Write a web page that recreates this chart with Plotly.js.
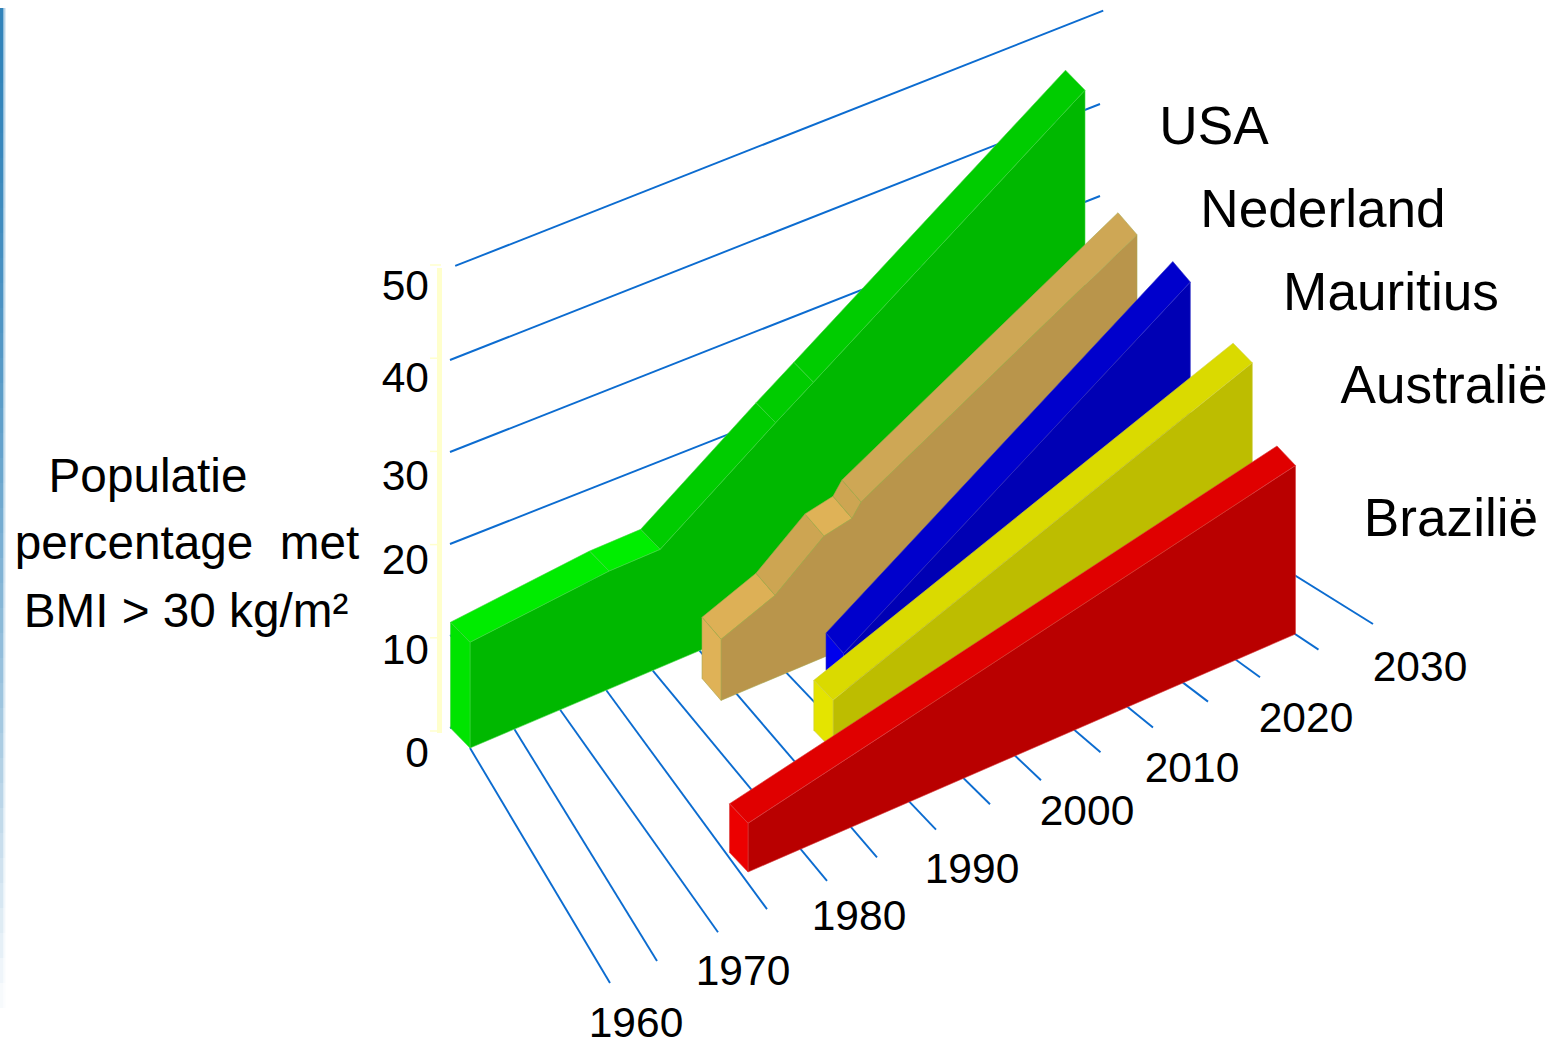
<!DOCTYPE html>
<html>
<head>
<meta charset="utf-8">
<title>Obesitas per land</title>
<script src="https://cdn.plot.ly/plotly-3.0.1.min.js"></script>
<style>html,body{margin:0;padding:0;background:#fff}#chart{width:1562px;height:1041px}</style>
</head>
<body>
<div id="chart"></div>
<script>
// Share of the population with BMI > 30 kg/m2, by survey year, per country
const usaYears = [1960, 1974.7, 1980.1, 1992.3, 1996.3, 2025];
const usaValues = [11.3, 12.6, 12.6, 20.9, 23.5, 42.4];
const nederlandYears = [1983.4, 1988.8, 1993.7, 1996.5, 1997.4, 2025];
const nederlandValues = [6.3, 8.5, 12.5, 13.1, 14.4, 30.0];
const mauritiusYears = [1992, 2025];
const mauritiusValues = [3.7, 26.2];
const australieYears = [1986, 2025];
const australieValues = [4.85, 20.5];
const brazilieYears = [1975, 2025];
const brazilieValues = [4.6, 15.9];

const axisValues = [0, 10, 20, 30, 40, 50];
const axisYearTicks = [1960, 1970, 1980, 1990, 2000, 2010, 2020, 2030];
const gridYears = [1960, 1965, 1970, 1975, 1980, 1985, 1990, 1995, 2000, 2005, 2010, 2015, 2020, 2025, 2030];
const countryNames = ['USA', 'Nederland', 'Mauritius', 'Australië', 'Brazilië'];
const yTitleLines = ['Populatie', 'percentage\u00a0 met', 'BMI > 30 kg/m²'];

// Oblique view: each ribbon has a floor line, a height scale and an extrusion offset
const ribbons = [
  {years: usaYears, values: usaValues, from: [470, 748], to: [1085, 487], scale: 9.36, depth: [-19.5, -20],
   side: '#00B800', cap: '#00E400', tops: ['#00EC00', '#00EE00', '#00CC00', '#00CC00', '#00CC00'], edge: '#3FD43F'},
  {years: nederlandYears, values: nederlandValues, from: [721, 700.4], to: [1137, 525.7], scale: 9.7, depth: [-19, -22],
   side: '#B9954B', cap: '#DFB257', tops: ['#DDB056', '#CDA552', '#DFB257', '#CDA552', '#CEA755'], edge: '#A9A850'},
  {years: mauritiusYears, values: mauritiusValues, from: [843.5, 690.5], to: [1190.3, 544], scale: 10, depth: [-17.5, -20.5],
   side: '#0000B4', cap: '#0000EC', tops: ['#0000CC'], edge: '#3030C8'},
  {years: australieYears, values: australieValues, from: [833, 750], to: [1252.3, 574], scale: 10.3, depth: [-19.2, -19.7],
   side: '#BDBD00', cap: '#E4E400', tops: ['#DADA00'], edge: '#CFCF40'},
  {years: brazilieYears, values: brazilieValues, from: [748, 872], to: [1295.5, 634], scale: 10.6, depth: [-18.5, -19.5],
   side: '#B90000', cap: '#EC0000', tops: ['#E00000'], edge: '#D84040'}
];

const lerp = (a, b, f) => a + (b - a) * f;
const GRID_BLUE = '#0C6CD0';
const FONT = '"Liberation Sans", Arial, sans-serif';

// Floor of the chart: d = 0 along the back edge, d = 1 along the front edge.
// The hand-drawn front ends of the floor lines wander slightly off the straight edge.
const gridFootNudge = [0, -7.5, -1, -6.5, -1, -5.5, -1, -1.5, -5, 0, -2, -1.5, -4, 0, 0];
function floorPoint(year, d) {
  const t = (year - 1960) / 70;
  const w = Math.pow(t, 1.02);
  const nudge = gridFootNudge[Math.round((year - 1960) / 5)];
  const back = [470 + 656 * w, 748 - 278 * w];
  const front = [lerp(610, 1373, t) + nudge, lerp(983, 624, t) - nudge * 0.47];
  return [lerp(back[0], front[0], d), lerp(back[1], front[1], d)];
}

// Back wall: value lines rising from left to right
const wallSpan = [[0, 1], [0, 1], [0, 1], [0, 1], [0, 1], [0.008, 1.005]];
function wallPoint(t, value) {
  return [lerp(450, 1100, t), 728 - 9.2 * value - 256 * t];
}

const traces = [];
function polygon(points, fill, edge) {
  traces.push({
    type: 'scatter', mode: 'lines', hoverinfo: 'skip', showlegend: false,
    x: points.map(p => p[0]).concat(points[0][0]),
    y: points.map(p => p[1]).concat(points[0][1]),
    fill: 'toself', fillcolor: fill,
    line: {color: edge, width: 0.6}
  });
}
function segment(a, b, color, width) {
  traces.push({
    type: 'scatter', mode: 'lines', hoverinfo: 'skip', showlegend: false,
    x: [a[0], b[0]], y: [a[1], b[1]],
    line: {color: color, width: width}
  });
}
// Optical centring: the glyph box sits a little high, so text drops by a share of its size
function label(x, y, text, size, position) {
  traces.push({
    type: 'scatter', mode: 'text', hoverinfo: 'skip', showlegend: false,
    x: [x], y: [y + 0.095 * size], text: [text], textposition: position || 'middle center',
    textfont: {family: FONT, size: size, color: '#000000'}, cliponaxis: false
  });
}

// Back wall and floor grid
axisValues.forEach((v, i) => segment(wallPoint(wallSpan[i][0], v), wallPoint(wallSpan[i][1], v), GRID_BLUE, 1.9));
gridYears.forEach(y => segment(floorPoint(y, 0), floorPoint(y, 1), GRID_BLUE, 1.9));

// Ribbons, back to front
ribbons.forEach(r => {
  const y0 = r.years[0], y1 = r.years[r.years.length - 1];
  const base = r.years.map(y => {
    const f = (y - y0) / (y1 - y0);
    return [lerp(r.from[0], r.to[0], f), lerp(r.from[1], r.to[1], f)];
  });
  const top = base.map((b, i) => [b[0], b[1] - r.scale * r.values[i]]);
  const shift = p => [p[0] + r.depth[0], p[1] + r.depth[1]];
  polygon(top.concat(base.slice().reverse()), r.side, r.edge);
  for (let i = 0; i < top.length - 1; i++) {
    polygon([top[i], top[i + 1], shift(top[i + 1]), shift(top[i])], r.tops[i], r.edge);
  }
  polygon([top[0], base[0], shift(base[0]), shift(top[0])], r.cap, r.edge);
});

// Value axis: pale bar with ticks on the left of the wall
const axisY = v => 731 - 9.32 * v;
traces.push({
  type: 'scatter', mode: 'lines', hoverinfo: 'skip', showlegend: false,
  x: [439.5, 439.5], y: [axisY(0) + 2, axisY(50) + 3], line: {color: '#FFFFCC', width: 5}
});
axisValues.forEach(v => segment([430, axisY(v)], [441, axisY(v)], '#FFFFCC', 1.5));

// Value labels sit just below their ticks, right-aligned
const valueLabelNudge = [1, -8, -5, 4, -1, 0];
axisValues.forEach((v, i) => label(429, axisY(v) + 20 + valueLabelNudge[i], String(v), 42.5, 'middle left'));

// Year labels along the front of the floor
const yearLabelX = y => lerp(636, 1420, (y - 1960) / 70);
const yearLabelY = y => lerp(1022, 666, (y - 1960) / 70);
const yearLabelNudge = [[0, 0], [-5, -1], [-1, -5], [0, -1], [3, -8], [-4, 0], [-2, 0], [0, 0]];
axisYearTicks.forEach((y, i) =>
  label(yearLabelX(y) + yearLabelNudge[i][0], yearLabelY(y) + yearLabelNudge[i][1], String(y), 42.5));

// Country names next to the ribbon ends
const nameAnchors = [[1214, 126], [1323, 209], [1391, 292], [1444, 385], [1451, 518]];
countryNames.forEach((n, i) => label(nameAnchors[i][0], nameAnchors[i][1], n, 53.2));

// Value axis title
const titleAnchors = [[148, 476], [187, 543], [186, 611]];
yTitleLines.forEach((t, i) => label(titleAnchors[i][0], titleAnchors[i][1], t, 47.7));

// Slide background: soft blue strip along the left edge, fading downward
const shapes = [];
const stripSteps = 40;
for (let i = 0; i < stripSteps; i++) {
  const yA = 8 + i * 1000 / stripSteps, yB = yA + 1000 / stripSteps;
  const fade = Math.max(0, 1 - Math.pow(i / stripSteps, 1.6));
  [[0, 3, 0.92], [3, 4.5, 0.5], [4.5, 6, 0.15]].forEach(c => {
    shapes.push({
      type: 'rect', xref: 'x', yref: 'y', layer: 'below', line: {width: 0},
      x0: c[0], x1: c[1], y0: yA, y1: yB,
      fillcolor: '#1F78B4', opacity: c[2] * fade
    });
  });
}

const layout = {
  width: 1562, height: 1041,
  margin: {l: 0, r: 0, t: 0, b: 0, pad: 0},
  paper_bgcolor: '#FFFFFF', plot_bgcolor: '#FFFFFF',
  showlegend: false,
  xaxis: {range: [0, 1562], visible: false, fixedrange: true},
  yaxis: {range: [1041, 0], visible: false, fixedrange: true},
  shapes: shapes
};

Plotly.newPlot('chart', traces, layout, {displayModeBar: false, staticPlot: true});
</script>
</body>
</html>
